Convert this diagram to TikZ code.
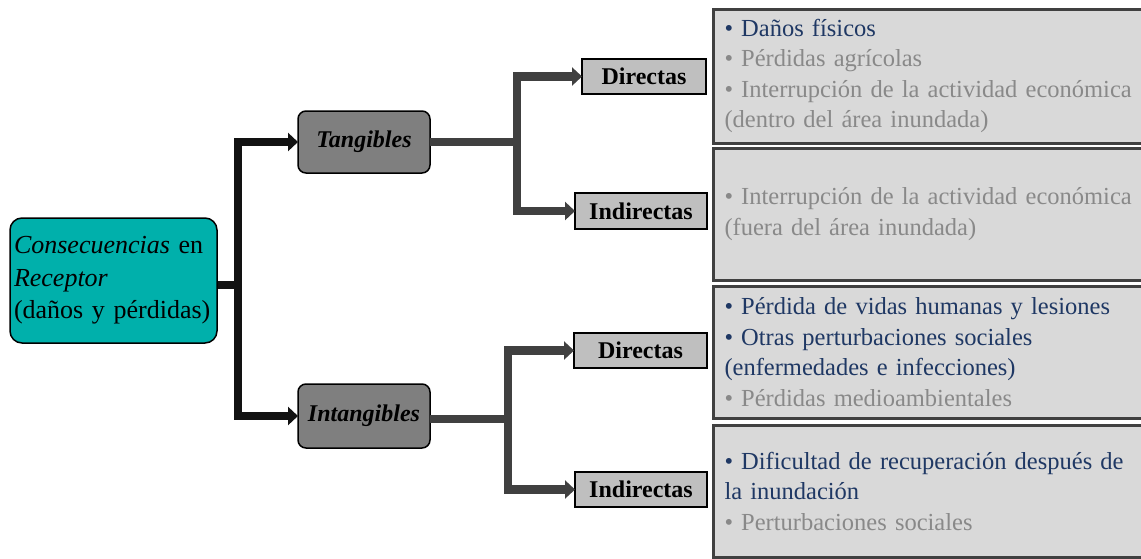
\documentclass[tikz,border=0pt]{standalone}
\usepackage{fontspec}
\setmainfont{Liberation Serif}
\usetikzlibrary{arrows.meta}
\definecolor{teal1}{RGB}{0,176,171}
\definecolor{midgray}{RGB}{127,127,127}
\definecolor{lgray}{RGB}{191,191,191}
\definecolor{boxgray}{RGB}{217,217,217}
\definecolor{dgray}{RGB}{64,64,64}
\definecolor{tblue}{RGB}{31,56,100}
\definecolor{tgray}{RGB}{137,137,137}
\tikzset{
  mainbox/.style={draw=black, line width=1.5pt, fill=teal1, rounded corners=12pt,
    minimum width=207pt, minimum height=125pt, text width=199pt, inner xsep=4pt,
    align=left, font=\fontsize{26}{32.5}\selectfont},
  catbox/.style={draw=black, line width=1.5pt, fill=midgray, rounded corners=8pt,
    minimum width=132pt, outer sep=0pt, font=\fontsize{24}{28}\selectfont\bfseries\itshape},
  subbox/.style={draw=black, line width=2pt, fill=lgray, minimum height=35pt,
    outer sep=0pt, inner sep=0pt, font=\fontsize{24}{28}\selectfont\bfseries},
  infobox/.style={draw=dgray, line width=3pt, fill=boxgray, anchor=west,
    text width=430pt, inner xsep=11pt, align=left,
    font=\fontsize{24.5}{30.5}\selectfont},
  blk/.style={line width=8pt, draw=black!93},
  blkarr/.style={blk, -{Triangle[length=10pt,width=18pt]}},
  gry/.style={line width=8.5pt, draw=dgray},
  gryarr/.style={gry, -{Triangle[length=10pt,width=18pt]}}
}
\begin{document}
\begin{tikzpicture}[x=1pt,y=-1pt]
\useasboundingbox[fill=white] (0,0) rectangle (1141,558);
\begin{scope}
\clip (0,0) rectangle (1141,558);
% info boxes
\node[infobox, minimum height=134pt] (i1) at (712,76)
  {\textcolor{tblue}{• Daños físicos}\\
   \textcolor{tgray}{• Pérdidas agrícolas}\\
   \textcolor{tgray}{• Interrupción de la actividad económica}\\
   \textcolor{tgray}{(dentro del área inundada)}};
\node[infobox, minimum height=132pt] (i2) at (712,214)
  {\textcolor{tgray}{• Interrupción de la actividad económica}\\
   \textcolor{tgray}{(fuera del área inundada)}};
\node[infobox, minimum height=132pt] (i3) at (712,352)
  {\textcolor{tblue}{• Pérdida de vidas humanas y lesiones}\\
   \textcolor{tblue}{• Otras perturbaciones sociales}\\
   \textcolor{tblue}{(enfermedades e infecciones)}\\
   \textcolor{tgray}{• Pérdidas medioambientales}};
\node[infobox, minimum height=132pt] (i4) at (712,491)
  {\textcolor{tblue}{• Dificultad de recuperación después de}\\
   \textcolor{tblue}{la inundación}\\
   \textcolor{tgray}{• Perturbaciones sociales}};
\end{scope}
% main node
\node[mainbox] (main) at (113.5,280.5)
  {\textit{Consecuencias} en\\ \textit{Receptor}\\ (daños y pérdidas)};
% categories
\node[catbox, minimum height=62pt] (tang) at (364,142) {Tangibles};
\node[catbox, minimum height=64pt] (intang) at (364,416) {Intangibles};
% sub boxes
\node[subbox, minimum width=124pt] (dir1) at (644,76.5) {Directas};
\node[subbox, minimum width=132pt, minimum height=36pt] (ind1) at (641,211) {Indirectas};
\node[subbox, minimum width=133pt] (dir2) at (640.5,350.5) {Directas};
\node[subbox, minimum width=132pt] (ind2) at (641,489.5) {Indirectas};
% black connectors
\coordinate (j1) at (238,285);
\draw[blk] ([yshift=-4.5pt]main.east) -- (j1);
\draw[blkarr] (j1) |- (tang.west);
\draw[blkarr] (j1) |- (intang.west);
% gray connectors upper
\coordinate (j2) at (517,142);
\draw[gry] (tang.east) -- (tang.east -| j2);
\draw[gryarr] (j2) |- (dir1.west);
\draw[gryarr] (j2) |- (ind1.west);
% gray connectors lower
\coordinate (j3) at (508,419);
\draw[gry] ([yshift=-3pt]intang.east) -- (j3);
\draw[gryarr] (j3) |- (dir2.west);
\draw[gryarr] (j3) |- (ind2.west);
\end{tikzpicture}
\end{document}
